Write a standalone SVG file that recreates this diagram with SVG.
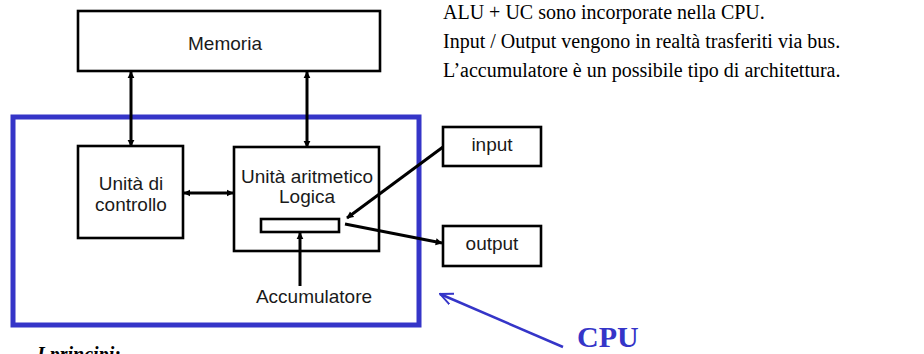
<svg xmlns="http://www.w3.org/2000/svg" width="924" height="354" viewBox="0 0 924 354">
<defs>
<style>
.box{fill:#fff;stroke:#000;stroke-width:2.6}
.lbl{font-family:"Liberation Sans",Arial,sans-serif;font-size:19px;fill:#1a1a1a;text-anchor:middle}
.note{font-family:"Liberation Serif","Times New Roman",serif;font-size:20px;fill:#000}
.conn{stroke:#000;stroke-width:3;fill:none}
</style>
<marker id="ah" viewBox="0 0 10 10" refX="9" refY="5" markerWidth="7" markerHeight="8" markerUnits="userSpaceOnUse" orient="auto-start-reverse">
<path d="M0,0 L10,5 L0,10 z" fill="#000"/>
</marker>
<marker id="bh" viewBox="0 0 12 12" refX="11" refY="6" markerWidth="14" markerHeight="14" markerUnits="userSpaceOnUse" orient="auto">
<path d="M0,1 L11,6 L0,11" fill="none" stroke="#3535c8" stroke-width="1.6"/>
</marker>
</defs>
<rect width="924" height="354" fill="#fff"/>
<g id="memoria"><rect class="box" x="78" y="11" width="302" height="60"/><text class="lbl" x="225" y="50">Memoria</text></g>
<g id="cpu"><rect x="13" y="117" width="406" height="208" fill="none" stroke="#3535c8" stroke-width="5"/></g>
<g id="controllo"><rect class="box" x="78" y="146" width="105" height="92"/><text class="lbl" x="131" y="190">Unità di</text><text class="lbl" x="131" y="211">controllo</text></g>
<g id="alu"><rect class="box" x="234" y="147" width="145" height="104"/><text class="lbl" x="307" y="183">Unità aritmetico</text><text class="lbl" x="307" y="203">Logica</text><rect class="box" x="261" y="219" width="78" height="13"/></g>
<g id="accumulatore"><text class="lbl" x="314" y="303">Accumulatore</text></g>
<g id="input"><rect class="box" x="443" y="127" width="98" height="39"/><text class="lbl" x="492" y="151">input</text></g>
<g id="output"><rect class="box" x="443" y="226" width="98" height="40"/><text class="lbl" x="492" y="250">output</text></g>
<g id="connectors">
<line class="conn" x1="131" y1="72" x2="131" y2="146" marker-start="url(#ah)" marker-end="url(#ah)"/>
<line class="conn" x1="307" y1="72" x2="307" y2="147" marker-start="url(#ah)" marker-end="url(#ah)"/>
<line class="conn" x1="184" y1="193" x2="233" y2="193" marker-start="url(#ah)" marker-end="url(#ah)"/>
<line class="conn" x1="300" y1="286" x2="300" y2="233" marker-end="url(#ah)"/>
<line class="conn" x1="443" y1="147" x2="347" y2="218" marker-end="url(#ah)"/>
<line class="conn" x1="345" y1="224" x2="442" y2="243" marker-end="url(#ah)"/>
<line x1="563" y1="347" x2="440" y2="294" stroke="#3535c8" stroke-width="2.5" marker-end="url(#bh)"/>
</g>
<text class="note" x="443" y="19">ALU + UC sono incorporate nella CPU.</text>
<text class="note" x="443" y="48">Input / Output vengono in realtà trasferiti via bus.</text>
<text class="note" x="443" y="77">L’accumulatore è un possibile tipo di architettura.</text>
<text x="577" y="347" font-family="'Liberation Serif','Times New Roman',serif" font-size="30" font-weight="bold" fill="#3535c8">CPU</text>
<text x="37" y="361" font-family="'Liberation Serif','Times New Roman',serif" font-size="20" font-weight="bold" font-style="italic" fill="#000">I principi:</text>
</svg>
